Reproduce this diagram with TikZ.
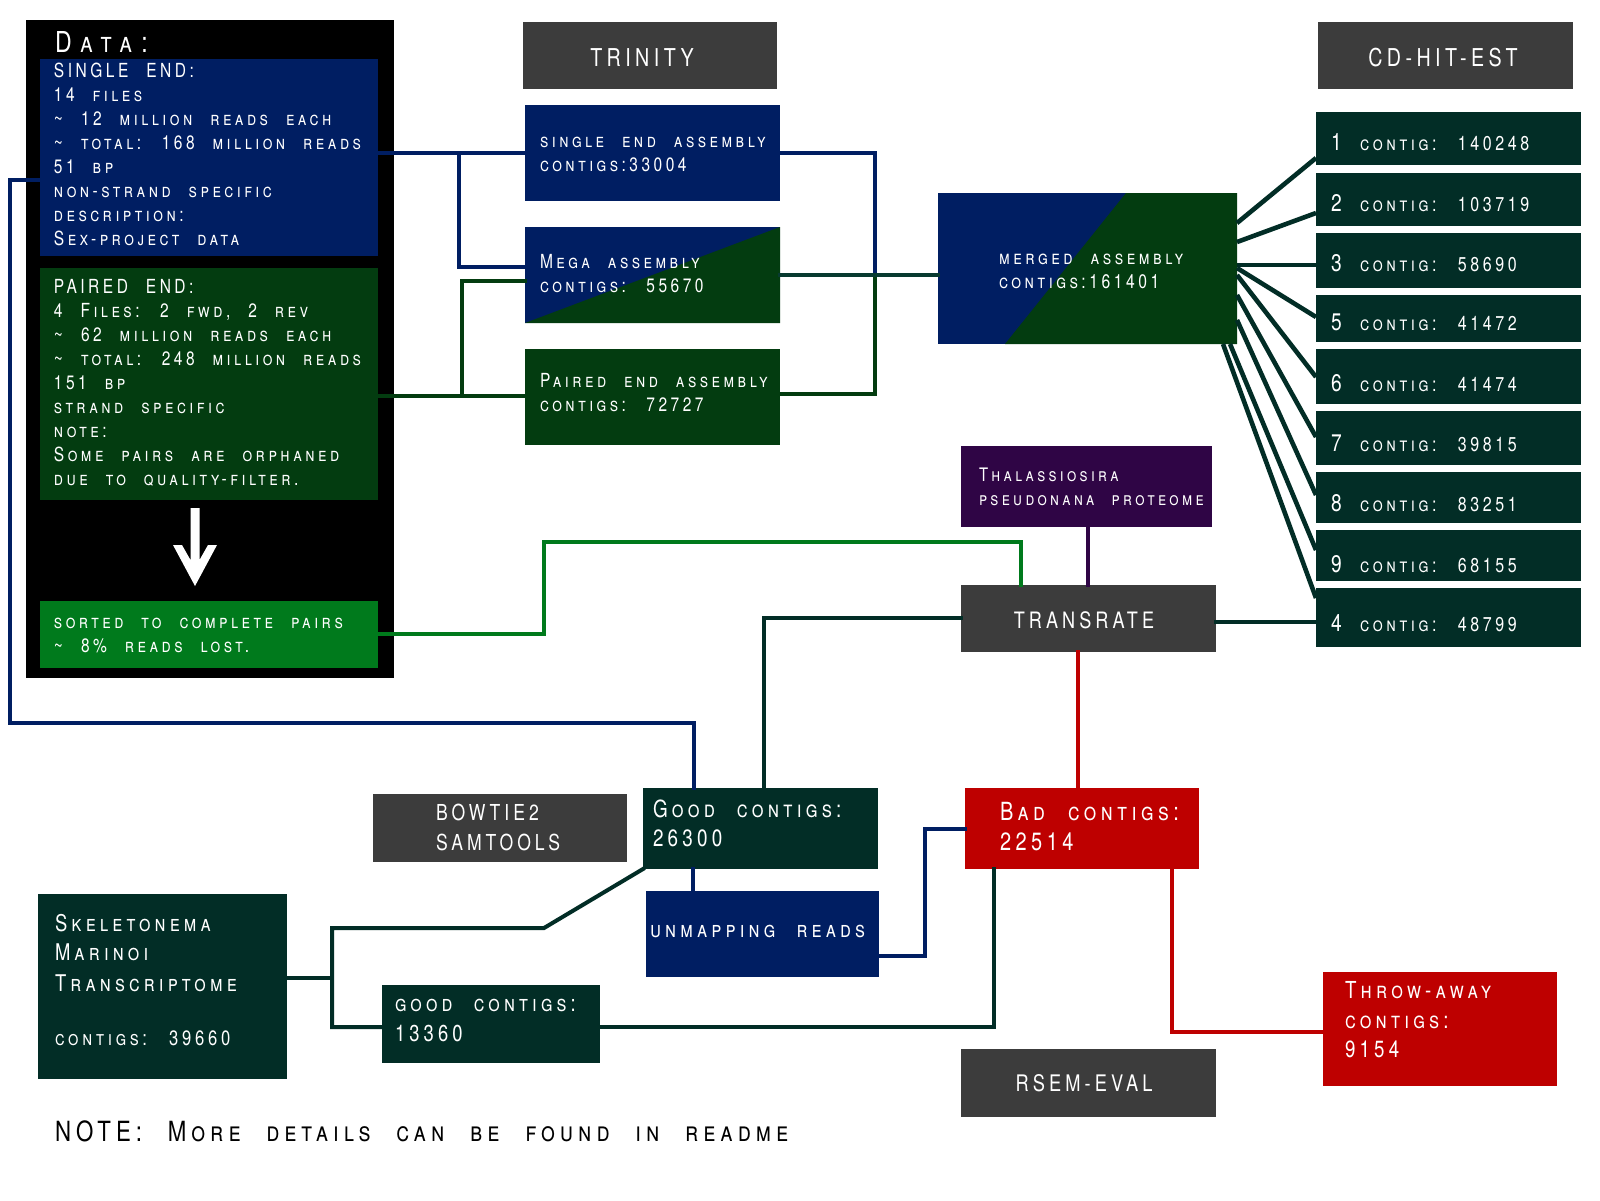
\documentclass[tikz,border=0pt]{standalone}
\usepackage{fontspec}
\setmainfont{TeX Gyre Heros}
\newfontfamily\dfont{TeX Gyre Heros}[FakeStretch=0.8,LetterSpace=18,WordSpace=2.3]
\usetikzlibrary{calc}
\definecolor{cnavy}{RGB}{0,30,98}
\definecolor{cdgreen}{RGB}{3,60,16}
\definecolor{cbgreen}{RGB}{0,122,28}
\definecolor{cteal}{RGB}{2,45,38}
\definecolor{cmid}{RGB}{8,58,48}
\definecolor{cgray}{RGB}{60,60,60}
\definecolor{cpurple}{RGB}{47,5,69}
\definecolor{cred}{RGB}{190,0,0}
\newcommand\fsz[1]{\dfont\fontsize{#1}{#1}\selectfont\scshape}
\newcounter{tln}
\newcommand\txtline[4][]{\stepcounter{tln}\edef\tlname{tl\arabic{tln}}\node[txt,#1] (\tlname) at (#2,#3) {#4};}
\newcommand\mkbox[6]{%
 \pgfmathsetmacro\mkbw{(#4-#2)*0.5}%
 \pgfmathsetmacro\mkbh{(#5-#3)*0.5}%
 \node[boxbase,fill=#6,minimum width=\mkbw pt,minimum height=\mkbh pt] (#1) at ({(#2+#4)/2},{(#3+#5)/2}) {};}
\tikzset{
 boxbase/.style={rectangle,inner sep=0pt,outer sep=0pt,draw=none},
 txt/.style={text=white,inner sep=0pt,outer sep=0pt,anchor=base west,font=\fsz{9.7}},
 ctr/.style={anchor=base},
 fbig/.style={font=\fsz{12.5}},
 conn/.style={line width=2pt,line cap=rect,line join=miter},
 lnavy/.style={conn,draw=cnavy},
 lgreen/.style={conn,draw=cdgreen},
 lbgreen/.style={conn,draw=cbgreen},
 lteal/.style={conn,draw=cteal},
 lmid/.style={conn,draw=cmid},
 lpurple/.style={conn,draw=cpurple},
 lred/.style={conn,draw=cred},
 lfan/.style={line width=2.3pt,draw=cteal},
}
\begin{document}
\begin{tikzpicture}[x=0.5pt,y=-0.5pt]
\useasboundingbox (0,0) rectangle (1600,1200);
\fill[white] (0,0) rectangle (1600,1200);

% ---------- boxes ----------
\mkbox{data}{26}{20}{394}{678}{black}
\mkbox{blue}{40}{59}{378}{256}{cnavy}
\mkbox{pe}{40}{268}{378}{500}{cdgreen}
\mkbox{sorted}{40}{601}{378}{668}{cbgreen}
\mkbox{trinity}{523}{22}{777}{89}{cgray}
\mkbox{se}{525}{105}{780}{201}{cnavy}
\mkbox{mega}{525}{227}{780}{323}{cnavy}
\mkbox{pea}{525}{349}{780}{445}{cdgreen}
\mkbox{merged}{938}{193}{1237}{344}{cnavy}
\mkbox{cdhit}{1318}{22}{1573}{89}{cgray}
\mkbox{c1}{1316}{112}{1581}{165}{cteal}
\mkbox{c2}{1316}{173}{1581}{226}{cteal}
\mkbox{c3}{1316}{233}{1581}{288}{cteal}
\mkbox{c5}{1316}{295}{1581}{342}{cteal}
\mkbox{c6}{1316}{349}{1581}{404}{cteal}
\mkbox{c7}{1316}{411}{1581}{465}{cteal}
\mkbox{c8}{1316}{472}{1581}{523}{cteal}
\mkbox{c9}{1316}{530}{1581}{581}{cteal}
\mkbox{c4}{1316}{588}{1581}{647}{cteal}
\mkbox{thal}{961}{446}{1212}{527}{cpurple}
\mkbox{trans}{961}{585}{1216}{652}{cgray}
\mkbox{bowtie}{373}{794}{627}{862}{cgray}
\mkbox{good}{643}{788}{878}{869}{cteal}
\mkbox{unmap}{646}{891}{879}{977}{cnavy}
\mkbox{skel}{38}{894}{287}{1079}{cteal}
\mkbox{good2}{382}{985}{600}{1063}{cteal}
\mkbox{bad}{965}{788}{1199}{869}{cred}
\mkbox{throw}{1323}{972}{1557}{1086}{cred}
\mkbox{rsem}{961}{1049}{1216}{1117}{cgray}

% diagonal halves
\fill[cdgreen] (mega.south west) -- (mega.north east) -- (mega.south east) -- cycle;
\fill[cdgreen] ($(merged.north west)+(188,0)$) -- (merged.north east) -- (merged.south east) -- ($(merged.south west)+(67,0)$) -- cycle;

% white arrow in data box
\fill[white] (190.5,508) -- (199.5,508) -- (199.5,560) -- (208,545) -- (217,545) -- (195,586) -- (173,545) -- (182,545) -- (190.5,560) -- cycle;

% ---------- connectors ----------
\coordinate (jA) at (459,153);
\coordinate (jB) at (459,267);
\coordinate (jC) at (462,396);
\coordinate (jD) at (462,281);
\draw[lnavy] (blue.east|-jA) -- (se.west|-jA);
\draw[lnavy] (jA) -- (jB) -- (mega.west|-jB);
\draw[lgreen] (pe.east|-jC) -- (pea.west|-jC);
\draw[lgreen] (jC) -- (jD) -- (mega.west|-jD);

\coordinate (jE) at (875,153);
\coordinate (jF) at (875,275);
\coordinate (jG) at (875,394);
\draw[lnavy] (se.east|-jE) -- (jE) -- (jF);
\draw[lgreen] (pea.east|-jG) -- (jG) -- (jF);
\draw[lmid] (mega.east|-jF) -- (merged.west|-jF);

\coordinate (jH) at (10,180);
\coordinate (jI) at (10,723);
\coordinate (jJ) at (694,723);
\draw[lnavy] (blue.west|-jH) -- (jH) -- (jI) -- (jJ) -- (good.north-|jJ);

\coordinate (jK) at (544,634);
\coordinate (jL) at (544,542);
\coordinate (jM) at (1021,542);
\draw[lbgreen] (sorted.east|-jK) -- (jK) -- (jL) -- (jM) -- (trans.north-|jM);

\coordinate (jN) at (1088,550);
\draw[lpurple] (thal.south-|jN) -- (trans.north-|jN);

\coordinate (jO) at (1260,622);
\draw[lteal] (trans.east|-jO) -- (c4.west|-jO);

\coordinate (jP) at (764,618);
\draw[lteal] (good.north-|jP) -- (jP) -- (trans.west|-jP);

\coordinate (jQ) at (1078,720);
\draw[lred] (trans.south-|jQ) -- (bad.north-|jQ);

\coordinate (jR) at (693,880);
\draw[lnavy] (good.south-|jR) -- (unmap.north-|jR);

\coordinate (jS) at (925,956);
\coordinate (jT) at (925,829);
\draw[lnavy] (unmap.east|-jS) -- (jS) -- (jT) -- (bad.west|-jT);

\coordinate (jU) at (544,928);
\coordinate (jV) at (332,928);
\coordinate (jX) at (332,978);
\coordinate (jY) at (332,1027);
\draw[lteal] (good.south west) -- (jU) -- (jV) -- (jY) -- (good2.west|-jY);
\draw[lteal] (skel.east|-jX) -- (jX);

\coordinate (jZ) at (994,1027);
\draw[lteal] (good2.east|-jZ) -- (jZ) -- (bad.south-|jZ);

\coordinate (ja) at (1172,1032);
\draw[lred] (bad.south-|ja) -- (ja) -- (throw.west|-ja);

% fan from merged to contig boxes
\draw[lfan] ($(merged.north east)+(0,30)$) -- ($(c1.north west)+(0,46)$);
\draw[lfan] ($(merged.north east)+(0,49)$) -- ($(c2.north west)+(0,40)$);
\draw[lfan] ($(merged.north east)+(0,72)$) -- ($(c3.north west)+(0,32)$);
\draw[lfan] ($(merged.north east)+(0,75)$) -- ($(c5.north west)+(0,22)$);
\draw[lfan] ($(merged.north east)+(0,82)$) -- ($(c6.north west)+(0,28)$);
\draw[lfan] ($(merged.north east)+(0,102)$) -- ($(c7.north west)+(0,26)$);
\draw[lfan] ($(merged.north east)+(0,127)$) -- ($(c8.north west)+(0,23)$);
\draw[lfan] ($(merged.south east)+(-7,0)$) -- ($(c9.north west)+(0,20)$);
\draw[lfan] ($(merged.south east)+(-14,0)$) -- ($(c4.north west)+(0,10)$);

% ---------- texts ----------
\txtline[font=\fsz{14.4}\addfontfeature{LetterSpace=32}]{55}{52}{Data:}
\txtline{54}{77}{SINGLE END:}
\txtline{54}{101}{14 files}
\txtline{54}{125}{\textasciitilde{} 12 million reads each}
\txtline{54}{149}{\textasciitilde{} total: 168 million reads}
\txtline{54}{173}{51 bp}
\txtline{54}{197}{non-strand specific}
\txtline{54}{221}{description:}
\txtline{54}{245}{Sex-project data}
\txtline{54}{293}{PAIRED END:}
\txtline{54}{317}{4 Files: 2 fwd, 2 rev}
\txtline{54}{341}{\textasciitilde{} 62 million reads each}
\txtline{54}{365}{\textasciitilde{} total: 248 million reads}
\txtline{54}{389}{151 bp}
\txtline{54}{413}{strand specific}
\txtline{54}{437}{note:}
\txtline{54}{461}{Some pairs are orphaned}
\txtline{54}{485}{due to quality-filter.}
\txtline{54}{628}{sorted to complete pairs}
\txtline{54}{652}{\textasciitilde{} 8\% reads lost.}

\txtline[ctr,font=\fsz{12.3}]{642}{66}{TRINITY}
\txtline{540}{147}{single end assembly}
\txtline{540}{171}{contigs:33004}
\txtline{540}{268}{Mega assembly}
\txtline{540}{292}{contigs: 55670}
\txtline{540}{387}{Paired end assembly}
\txtline{540}{411}{contigs: 72727}
\txtline[font=\fsz{9.8}]{999}{264}{merged assembly}
\txtline[font=\fsz{9.8}]{999}{288}{contigs:161401}

\txtline[ctr,font=\fsz{12.3}]{1443}{66}{CD-HIT-EST}
\txtline[font=\fsz{10}]{1331}{150}{{\fsz{12}1} contig: 140248}
\txtline[font=\fsz{10}]{1331}{211}{{\fsz{12}2} contig: 103719}
\txtline[font=\fsz{10}]{1331}{271}{{\fsz{12}3} contig: 58690}
\txtline[font=\fsz{10}]{1331}{330}{{\fsz{12}5} contig: 41472}
\txtline[font=\fsz{10}]{1331}{391}{{\fsz{12}6} contig: 41474}
\txtline[font=\fsz{10}]{1331}{451}{{\fsz{12}7} contig: 39815}
\txtline[font=\fsz{10}]{1331}{511}{{\fsz{12}8} contig: 83251}
\txtline[font=\fsz{10}]{1331}{572}{{\fsz{12}9} contig: 68155}
\txtline[font=\fsz{10}]{1331}{631}{{\fsz{12}4} contig: 48799}

\txtline[font=\fsz{9.3}]{979}{481}{Thalassiosira}
\txtline[font=\fsz{9.3}]{979}{505}{pseudonana proteome}
\txtline[ctr,font=\fsz{11.3}]{1084}{628}{TRANSRATE}
\txtline[font=\fsz{11}]{436}{820}{BOWTIE2}
\txtline[font=\fsz{11}]{436}{850}{SAMTOOLS}
\txtline[font=\fsz{11.8}]{653}{817}{Good contigs:}
\txtline[font=\fsz{11.8}]{653}{846}{26300}
\txtline[font=\fsz{11.5}]{650}{937}{unmapping reads}
\txtline[font=\fsz{11.5}]{55}{931}{Skeletonema}
\txtline[font=\fsz{11.5}]{55}{960}{Marinoi}
\txtline[font=\fsz{11.5}]{55}{991}{Transcriptome}
\txtline[font=\fsz{10.4}]{55}{1045}{contigs: 39660}
\txtline[font=\fsz{11.5}]{395}{1011}{good contigs:}
\txtline[font=\fsz{11.5}]{395}{1041}{13360}
\txtline[fbig]{1000}{820}{Bad contigs:}
\txtline[fbig]{1000}{850}{22514}
\txtline[font=\fsz{11.7}]{1345}{998}{Throw-away}
\txtline[font=\fsz{11.7}]{1345}{1028}{contigs:}
\txtline[font=\fsz{11.7}]{1345}{1057}{9154}
\txtline[ctr,font=\fsz{11.4}]{1084}{1091}{RSEM-EVAL}
\txtline[text=black,font=\fsz{13.9}]{55}{1141}{NOTE: More details can be found in readme}
\end{tikzpicture}
\end{document}
